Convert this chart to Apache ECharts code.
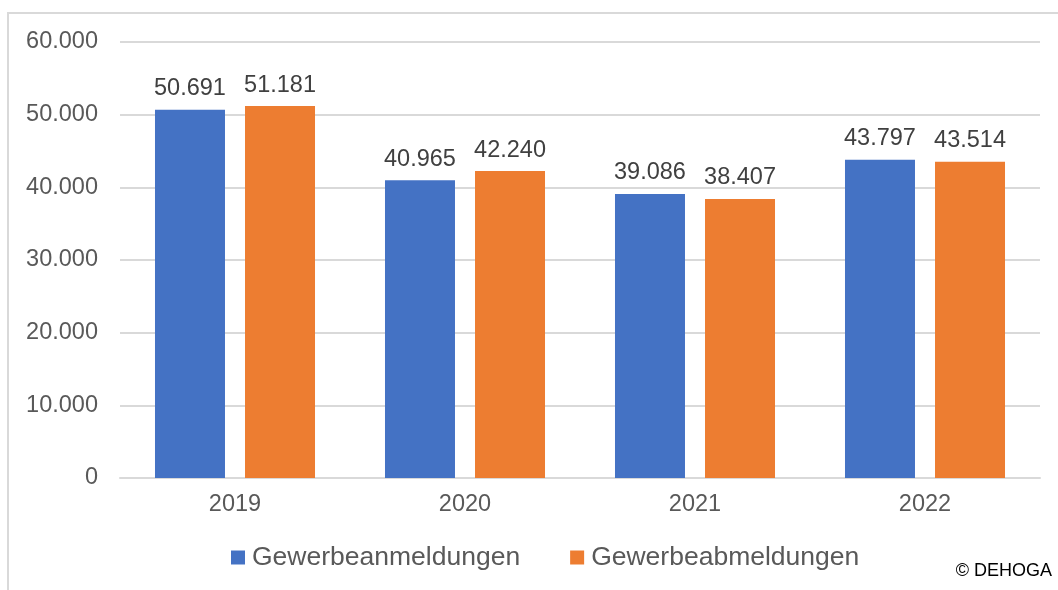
<!DOCTYPE html>
<html>
<head>
<meta charset="utf-8">
<script src="https://cdn.jsdelivr.net/npm/echarts@6/dist/echarts.min.js"></script>
<style>
html, body { margin: 0; padding: 0; background: #fff; }
#chart { width: 1058px; height: 590px; }
</style>
</head>
<body>
<div id="chart"></div>
<script>
var years = ['2019', '2020', '2021', '2022'];
var anmeldungen = [50691, 40965, 39086, 43797];
var abmeldungen = [51181, 42240, 38407, 43514];
var seriesNames = ['Gewerbeanmeldungen', 'Gewerbeabmeldungen'];

// deutsche Tausenderpunkte
function fmt(v) {
	return String(v).replace(/\B(?=(\d{3})+(?!\d))/g, '.');
}

var font = 'Liberation Sans, Arial, sans-serif';

var labelStyle = {
	show: true,
	position: 'top',
	distance: 9,
	fontFamily: font,
	fontSize: 23.5,
	color: '#404040',
	formatter: function (p) { return fmt(p.value); }
};

var option = {
	animation: false,
	backgroundColor: '#fff',
	grid: { left: 120, right: 18, top: 42, bottom: 112 },
	legend: {
		data: seriesNames,
		bottom: 14,
		left: 226,
		icon: 'rect',
		itemWidth: 14,
		itemHeight: 14,
		itemGap: 50,
		textStyle: { fontFamily: font, fontSize: 26.5, color: '#595959', padding: [0, 0, 0, 2] }
	},
	xAxis: {
		type: 'category',
		data: years,
		axisLine: { lineStyle: { color: '#d9d9d9', width: 2 } },
		axisTick: { show: false },
		axisLabel: { fontFamily: font, fontSize: 23.5, color: '#595959', margin: 15 }
	},
	yAxis: {
		type: 'value',
		min: 0,
		max: 60000,
		interval: 10000,
		axisLine: { show: false },
		axisTick: { show: false },
		splitLine: { lineStyle: { color: '#d9d9d9', width: 2 } },
		axisLabel: {
			fontFamily: font, fontSize: 23.5, color: '#595959', margin: 22,
			formatter: function (v) { return fmt(v); }
		}
	},
	series: [{
		name: seriesNames[0],
		type: 'bar',
		data: anmeldungen,
		barWidth: 70,
		barGap: '28.6%',
		itemStyle: { color: '#4472c4' },
		label: labelStyle
	}, {
		name: seriesNames[1],
		type: 'bar',
		data: abmeldungen,
		barWidth: 70,
		itemStyle: { color: '#ed7d31' },
		label: labelStyle
	}],
	graphic: [{
		type: 'polyline',
		shape: { points: [[8, 590], [8, 13], [1058, 13]] },
		style: { stroke: '#d9d9d9', lineWidth: 2, fill: null }
	}, {
		type: 'text',
		right: 6,
		bottom: 10,
		style: { text: '© DEHOGA', fontFamily: font, fontSize: 18, fill: '#000' }
	}]
};

echarts.init(document.getElementById('chart')).setOption(option);
</script>
</body>
</html>
